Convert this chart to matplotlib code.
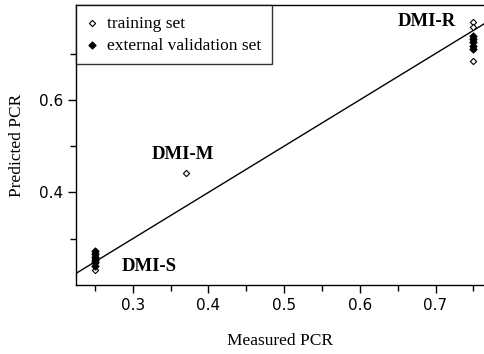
import numpy as np
import matplotlib.pyplot as plt

# data
train_x = [0.25, 0.25, 0.25, 0.25, 0.37, 0.75, 0.75, 0.75]
train_y = [0.232, 0.248, 0.258, 0.268, 0.443, 0.768, 0.757, 0.684]

valid_x = [0.25, 0.25, 0.25, 0.25, 0.25, 0.25, 0.75, 0.75, 0.75, 0.75, 0.75]
valid_y = [0.242, 0.249, 0.255, 0.261, 0.267, 0.273, 0.710, 0.717, 0.724, 0.731, 0.737]

labels = ['DMI-S', 'DMI-M', 'DMI-R']
label_x = [0.322, 0.366, 0.688]
label_y = [0.240, 0.482, 0.770]

fit_slope = 1.0
fit_intercept = 0.0

xlim = (0.225, 0.764)
ylim = (0.2, 0.805)

serif = 'Liberation Serif'

fig = plt.figure(figsize=(4.84, 3.54), dpi=100)
axs = fig.add_axes([0.157, 0.195, 0.843, 0.791])

xx = np.array(xlim)
axs.plot(xx, fit_slope*xx + fit_intercept, color='black', linewidth=1.0, zorder=1)

axs.scatter(train_x, train_y, marker='D', s=10, facecolors='white',
            edgecolors='black', linewidths=0.8, zorder=2, label='training set')
axs.scatter(valid_x, valid_y, marker='D', s=12, color='black',
            zorder=3, label='external validation set')

for name, lx, ly in zip(labels, label_x, label_y):
    axs.text(lx, ly, name, fontsize=13.5, fontweight='bold', family=serif,
             ha='center', va='center')

axs.set_xlim(xlim)
axs.set_ylim(ylim)
axs.set_xticks([0.3, 0.4, 0.5, 0.6, 0.7])
axs.set_xticks([0.25, 0.35, 0.45, 0.55, 0.65, 0.75], minor=True)
axs.set_yticks([0.4, 0.6])
axs.set_yticks([0.3, 0.5, 0.7], minor=True)
axs.tick_params(which='major', direction='out', length=6, width=1, labelsize=11, colors='black')
axs.tick_params(which='minor', direction='out', length=4, width=1)
axs.spines['right'].set_visible(False)
for s in ['left', 'bottom', 'top']:
    axs.spines[s].set_linewidth(1.0)

axs.set_xlabel('Measured PCR', family=serif, fontsize=12.5, labelpad=14)
axs.set_ylabel('Predicted PCR', family=serif, fontsize=12.5, labelpad=10)

leg = axs.legend(loc='upper left', bbox_to_anchor=(0.0, 1.0), prop={'family': serif, 'size': 12.5},
                 frameon=True, fancybox=False, edgecolor='black', borderaxespad=0,
                 handlelength=0.6, handletextpad=0.6, borderpad=0.6, labelspacing=0.35)
leg.get_frame().set_linewidth(1.0)

plt.savefig('out.png', dpi=100)
